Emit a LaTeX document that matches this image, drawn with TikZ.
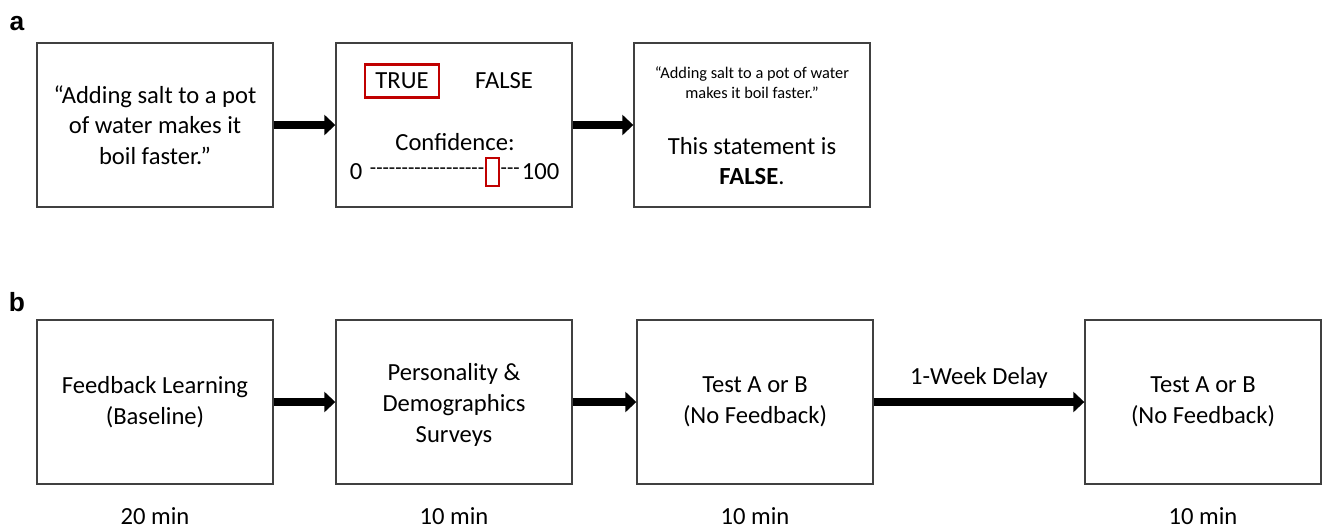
\documentclass[tikz,border=0pt]{standalone}
\usepackage{fontspec}
\setmainfont{Carlito}
\newfontfamily\panelfont{Liberation Sans}
\usetikzlibrary{arrows.meta, positioning}

\definecolor{pickred}{HTML}{C00000}

\tikzset{
  stage/.style={draw=black!75, line width=0.8pt, minimum width=4.72cm,
    minimum height=3.28cm, inner sep=0pt, align=center,
    font=\fontsize{14}{17.5}\selectfont},
  txt/.style={inner sep=0pt, align=center, font=\fontsize{14}{17.5}\selectfont},
  small/.style={inner sep=0pt, align=center, font=\fontsize{9.3}{11.3}\selectfont},
  dur/.style={inner sep=0pt, anchor=base, font=\fontsize{14}{17.5}\selectfont},
  pick/.style={draw=pickred, line width=1.6pt},
  flow/.style={line width=5pt, -{Triangle[length=0.22cm, width=0.4cm]}},
  panel/.style={inner sep=0pt, font=\panelfont\bfseries\fontsize{15}{18}\selectfont},
}

\newcommand{\dashrun}[1]{\fontsize{11.8}{14}\selectfont\raisebox{0.5pt}{\foreach \k in {1,...,#1}{-}}}

\begin{document}
\begin{tikzpicture}[x=0.02cm, y=-0.02cm]
\useasboundingbox (0,0) rectangle (1323,528);

%---a---

\node[panel] (pa) at (17,24) {a};

\node[stage] (stmt) at (155,125) {``Adding salt to a pot\\of water makes it\\boil faster.''};
\node[stage] (answer) at (454,125) {};
\node[stage] (feedback) at (752,125) {};

\node[txt, pick, minimum width=1.48cm, minimum height=0.66cm] (tru) at (402,81) {TRUE};
\node[txt] (fal) at (504,81) {FALSE};
\node[txt] (conf) at (455,142) {Confidence:};

\node[txt] (zero) at (356,172) {0};
\node[txt, right=0.14cm of zero] (lo) {\dashrun{18}};
\node[pick, inner sep=0pt, minimum width=0.26cm, minimum height=0.56cm, right=0pt of lo] (slider) {};
\node[txt, right=0pt of slider] (hi) {\dashrun{3}};
\node[txt, right=0.03cm of hi] (hundred) {100};

\node[small] (quote) at (752,83) {``Adding salt to a pot of water\\makes it boil faster.''};
\node[txt] (verdict) at (752,161) {This statement is\\\textbf{FALSE}.};

\draw[flow] (stmt) -- (answer);
\draw[flow] (answer) -- (feedback);

%---b---

\node[panel] (pb) at (17,302) {b};

\node[stage] (learn) at (155,402) {Feedback Learning\\(Baseline)};
\node[stage] (survey) at (454,402) {};
\node[txt] (surveytext) at (454,405) {Personality \&\\Demographics\\Surveys};
\node[stage] (testA) at (755,402) {Test A or B\\(No Feedback)};
\node[stage] (testB) at (1203,402) {Test A or B\\(No Feedback)};

\draw[flow] (learn) -- (survey);
\draw[flow] (survey) -- (testA);
\draw[flow] (testA) -- node[txt, above=0.18cm] (delay) {1-Week Delay} (testB);

\node[dur] (t1) at (155,524) {20 min};
\node[dur] (t2) at (454,524) {10 min};
\node[dur] (t3) at (755,524) {10 min};
\node[dur] (t4) at (1203,524) {10 min};

\end{tikzpicture}
\end{document}
